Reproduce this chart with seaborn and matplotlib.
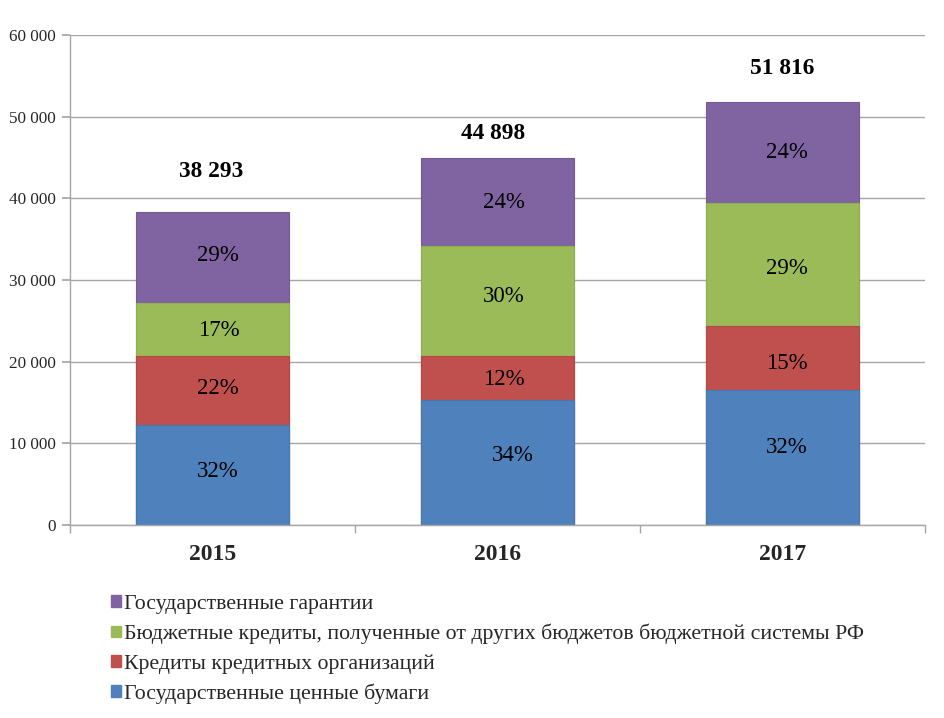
import matplotlib
matplotlib.use("Agg")
import matplotlib.pyplot as plt
import seaborn as sns
import pandas as pd
import numpy as np
from matplotlib.patches import Patch
from matplotlib.ticker import FuncFormatter, FixedLocator

years = ["2015", "2016", "2017"]
securities = [12250, 15270, 16580]      # Государственные ценные бумаги
bank_loans = [8420, 5390, 7770]         # Кредиты кредитных организаций
budget_loans = [6510, 13470, 15030]     # Бюджетные кредиты
guarantees = [11113, 10768, 12436]      # Государственные гарантии
totals = [38293, 44898, 51816]
pct_securities = ["32%", "34%", "32%"]
pct_bank = ["22%", "12%", "15%"]
pct_budget = ["17%", "30%", "29%"]
pct_guar = ["29%", "24%", "24%"]

series_names = [
    "Государственные ценные бумаги",
    "Кредиты кредитных организаций",
    "Бюджетные кредиты, полученные от других бюджетов бюджетной системы РФ",
    "Государственные гарантии",
]
colors = ["#4F81BD", "#C0504D", "#9BBB59", "#8064A2"]
edges = ["#4677B2", "#B14845", "#8EAF4D", "#765A98"]

# label nudges in pixels (dx right, dy down) as placed in the original
pct_offsets = [
    [(5, -3), (15, -7), (4, -10)],
    [(5, -2), (6, 1), (4, 6)],
    [(6, 1), (6, -5), (4, 4)],
    [(5, -2), (6, 0), (4, 0)],
]
total_offsets = [(-1, 41), (-4, 25), (0, 33)]

sns.set_theme(style="white")
plt.rcParams["font.family"] = ["Liberation Serif", "DejaVu Serif"]

series = [securities, bank_loans, budget_loans, guarantees]
pcts = [pct_securities, pct_bank, pct_budget, pct_guar]
cum = np.cumsum(np.array(series, dtype=float), axis=0)

fig = plt.figure(figsize=(9.45, 7.18), dpi=100)
ax = fig.add_axes([70/945, 1-525/718, 855/945, 490/718])

for i in reversed(range(4)):
    df = pd.DataFrame({"year": years, "val": cum[i]})
    sns.barplot(data=df, x="year", y="val", color=colors[i], width=0.535,
                edgecolor=edges[i], linewidth=0.8, saturation=1, ax=ax)

px = 72 / 100.0
for i in range(4):
    for j in range(3):
        bottom = cum[i-1][j] if i > 0 else 0
        mid = (bottom + cum[i][j]) / 2
        dx, dy = pct_offsets[i][j]
        ax.annotate(pcts[i][j], (j, mid), xytext=(dx*px, -dy*px), textcoords="offset points",
                    ha="center", va="center", fontsize=16.5, color="black")

for j in range(3):
    dx, dy = total_offsets[j]
    ax.annotate(f"{totals[j]:,}".replace(",", " "), (j, totals[j]),
                xytext=(dx*px, dy*px), textcoords="offset points", ha="center",
                va="center", fontsize=16.8, fontweight="bold", color="black")

ax.set_ylim(0, 60000)
ax.set_xlim(-0.5, 2.5)
ax.set_yticks(range(0, 60001, 10000))
ax.yaxis.set_major_formatter(FuncFormatter(lambda v, p: f"{int(v):,}".replace(",", " ")))
ax.grid(axis="y", color="#A6A6A6", linewidth=1)
ax.set_axisbelow(True)
ax.set_xlabel("")
ax.set_ylabel("")
for s in ["top", "right"]:
    ax.spines[s].set_visible(False)
ax.spines["left"].set_color("#A6A6A6")
ax.spines["bottom"].set_color("#A6A6A6")
ax.spines["left"].set_linewidth(1)
ax.spines["bottom"].set_linewidth(1)

ax.tick_params(axis="y", which="major", length=6, color="#A6A6A6", labelsize=12.3, pad=4, left=True)
ax.tick_params(axis="x", which="major", length=0, labelsize=17, pad=14)
ax.xaxis.set_minor_locator(FixedLocator([-0.5, 0.5, 1.5, 2.5]))
ax.tick_params(axis="x", which="minor", length=6, color="#A6A6A6", bottom=True)
for lbl in ax.get_xticklabels():
    lbl.set_fontweight("bold")

handles = [Patch(facecolor=colors[i], edgecolor=colors[i]) for i in reversed(range(4))]
labels = [series_names[i] for i in reversed(range(4))]
fig.legend(handles, labels, loc="upper left", bbox_to_anchor=(100/945, 1-584/718),
           frameon=False, fontsize=15.7, handlelength=0.46, handleheight=0.46,
           handletextpad=0.15, labelspacing=0.45, borderpad=0)

fig.savefig("out.png", dpi=100, facecolor="white")
